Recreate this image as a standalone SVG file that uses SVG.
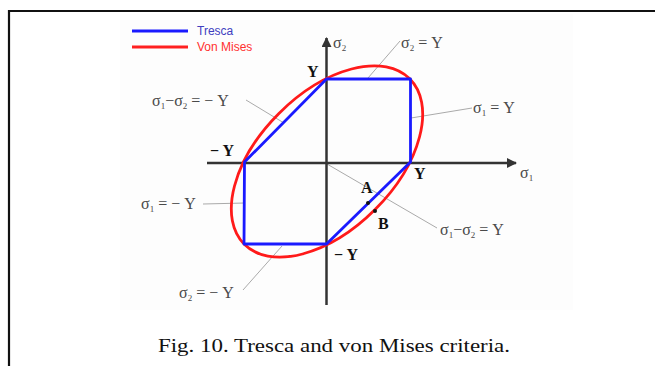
<svg xmlns="http://www.w3.org/2000/svg" width="655" height="366" viewBox="0 0 655 366">
<style>
.lbl{font-family:"Liberation Serif","Times New Roman",serif;font-size:16px;fill:#4a4a4a}
.sub{font-size:9px}
.ybold{font-family:"Liberation Serif","Times New Roman",serif;font-size:16px;font-weight:bold;fill:#111}
.lead{stroke:#aaa;stroke-width:1;fill:none}
.axis{stroke:#333;stroke-width:2.5;fill:none}
.leg{font-family:"Liberation Sans",Arial,sans-serif;font-size:12px}
</style>
<defs>
<marker id="arr" viewBox="0 0 10 10" refX="9" refY="5" markerWidth="4" markerHeight="4" orient="auto" markerUnits="strokeWidth">
<path d="M0,0 L10,5 L0,10 z" fill="#333"/>
</marker>
</defs>
<rect x="0" y="0" width="655" height="366" fill="#fff"/>
<rect x="120" y="14" width="453" height="296" fill="#fdfdfd"/>
<path d="M9,366 V11 H655" stroke="#111" stroke-width="2.2" fill="none"/>
<g id="legend">
<line x1="132" y1="31" x2="188" y2="31" stroke="#1a1aff" stroke-width="3"/>
<text class="leg" x="197" y="35" fill="#4040c0">Tresca</text>
<line x1="132" y1="47" x2="188" y2="47" stroke="#ff2020" stroke-width="3"/>
<text class="leg" x="197" y="51" fill="#ff3030">Von Mises</text>
</g>
<g id="connectors">
<line class="lead" x1="327" y1="164" x2="437" y2="228"/>
<line class="lead" x1="368" y1="78" x2="400" y2="41"/>
<line class="lead" x1="411" y1="118" x2="472" y2="108"/>
<line class="lead" x1="246" y1="100" x2="284" y2="123"/>
<line class="lead" x1="203" y1="204" x2="245" y2="203"/>
<line class="lead" x1="243" y1="290" x2="282" y2="246"/>
</g>
<g id="axes">
<line class="axis" x1="207" y1="163" x2="516" y2="163" marker-end="url(#arr)"/>
<line class="axis" x1="326.5" y1="305" x2="326.5" y2="38" marker-end="url(#arr)"/>
<text class="lbl" x="333" y="48">σ<tspan class="sub" dy="3">2</tspan></text>
<text class="lbl" x="520" y="178">σ<tspan class="sub" dy="3">1</tspan></text>
</g>
<g id="vonmises">
<ellipse cx="327" cy="161.5" rx="117" ry="68" transform="rotate(-45 327 161.5)" fill="none" stroke="#ff1a1a" stroke-width="2.8"/>
</g>
<g id="tresca">
<polygon points="326.5,79 410.5,79 410.5,162 326.5,244 244,244 244.5,162" fill="none" stroke="#1a1aff" stroke-width="2.8" stroke-linejoin="round"/>
</g>
<g id="pointA">
<circle cx="368" cy="203" r="2" fill="#111"/>
<text class="ybold" x="361" y="193">A</text>
</g>
<g id="pointB">
<circle cx="375" cy="211" r="2" fill="#111"/>
<text class="ybold" x="378" y="229">B</text>
</g>
<g id="ylabels">
<text class="ybold" x="307" y="77">Y</text>
<text class="ybold" x="210" y="156">− Y</text>
<text class="ybold" x="414" y="179">Y</text>
<text class="ybold" x="334" y="260">− Y</text>
</g>
<g id="labels">
<text class="lbl" x="401" y="48">σ<tspan class="sub" dy="3">2</tspan><tspan dy="-3"> = Y</tspan></text>
<text class="lbl" x="473" y="113">σ<tspan class="sub" dy="3">1</tspan><tspan dy="-3"> = Y</tspan></text>
<text class="lbl" x="152" y="106">σ<tspan class="sub" dy="3">1</tspan><tspan dy="-3">−σ</tspan><tspan class="sub" dy="3">2</tspan><tspan dy="-3"> = − Y</tspan></text>
<text class="lbl" x="141" y="209">σ<tspan class="sub" dy="3">1</tspan><tspan dy="-3"> = − Y</tspan></text>
<text class="lbl" x="179" y="298">σ<tspan class="sub" dy="3">2</tspan><tspan dy="-3"> = − Y</tspan></text>
<text class="lbl" x="440" y="235">σ<tspan class="sub" dy="3">1</tspan><tspan dy="-3">−σ</tspan><tspan class="sub" dy="3">2</tspan><tspan dy="-3"> = Y</tspan></text>
</g>
<g id="caption">
<text x="158" y="352" font-family="'Liberation Serif','Times New Roman',serif" font-size="18" fill="#111" textLength="352" lengthAdjust="spacingAndGlyphs">Fig. 10. Tresca and von Mises criteria.</text>
</g>
</svg>
